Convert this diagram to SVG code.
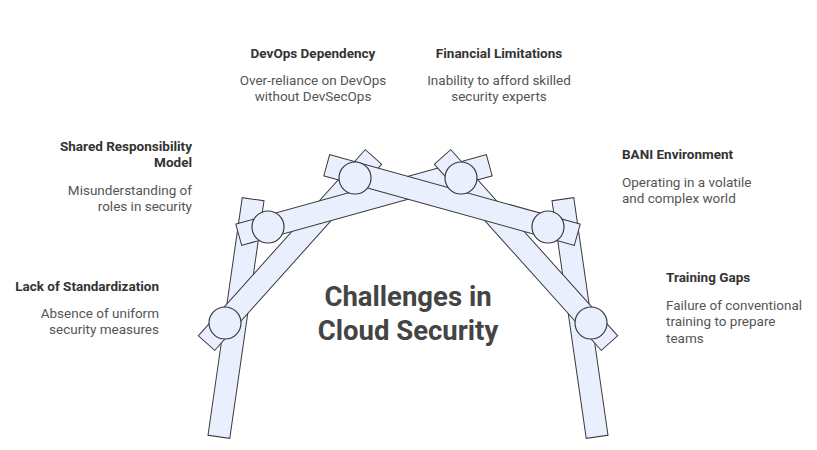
<svg xmlns="http://www.w3.org/2000/svg" width="817" height="450" viewBox="0 0 817 450">
<style>
.bar{fill:#e9effc;stroke:#3a3a3a;stroke-width:1}
.j{fill:#e9effc;stroke:#3a3a3a;stroke-width:1.2}
.t{font-family:Roboto,"Liberation Sans",sans-serif;font-size:13.5px;font-weight:bold;fill:#333}
.d{font-family:Roboto,"Liberation Sans",sans-serif;font-size:13.5px;fill:#555}
.c{font-family:Roboto,"Liberation Sans",sans-serif;font-size:27.5px;font-weight:bold;fill:#444;text-anchor:middle}
.e{text-anchor:end}.m{text-anchor:middle}
</style>
<rect width="817" height="450" fill="#fff"/>
<g id="connectors">
<g id="left-arms">
<rect class="bar" x="-120" y="-11" width="240" height="22" transform="translate(236,318) rotate(-81.8)"/>
<rect class="bar" x="-125" y="-11" width="250" height="22" transform="translate(290,250) rotate(-48.1)"/>
<rect class="bar" x="-130" y="-11" width="260" height="22" transform="translate(364,200) rotate(-15.5)"/>
</g>
<g id="right-arms" transform="translate(816,0) scale(-1,1)">
<rect class="bar" x="-120" y="-11" width="240" height="22" transform="translate(236,318) rotate(-81.8)"/>
<rect class="bar" x="-125" y="-11" width="250" height="22" transform="translate(290,250) rotate(-48.1)"/>
<rect class="bar" x="-130" y="-11" width="260" height="22" transform="translate(364,200) rotate(-15.5)"/>
</g>
</g>
<g id="lack"><circle class="j" cx="225" cy="323" r="16"/>
<text class="t e" x="159" y="291">Lack of Standardization</text>
<text class="d e" x="159" y="318">Absence of uniform</text><text class="d e" x="159" y="334">security measures</text></g>
<g id="shared"><circle class="j" cx="268" cy="227" r="16"/>
<text class="t e" x="192" y="151">Shared Responsibility</text><text class="t e" x="192" y="167">Model</text>
<text class="d e" x="192" y="195">Misunderstanding of</text><text class="d e" x="192" y="211">roles in security</text></g>
<g id="devops"><circle class="j" cx="355" cy="178" r="16"/>
<text class="t m" x="313" y="58">DevOps Dependency</text>
<text class="d m" x="313" y="85">Over-reliance on DevOps</text><text class="d m" x="313" y="101">without DevSecOps</text></g>
<g id="financial"><circle class="j" cx="461" cy="178" r="16"/>
<text class="t m" x="499" y="58">Financial Limitations</text>
<text class="d m" x="499" y="85">Inability to afford skilled</text><text class="d m" x="499" y="101">security experts</text></g>
<g id="bani"><circle class="j" cx="548" cy="227" r="16"/>
<text class="t" x="622" y="159">BANI Environment</text>
<text class="d" x="622" y="187">Operating in a volatile</text><text class="d" x="622" y="203">and complex world</text></g>
<g id="training"><circle class="j" cx="591" cy="323" r="16"/>
<text class="t" x="666" y="282">Training Gaps</text>
<text class="d" x="666" y="310">Failure of conventional</text><text class="d" x="666" y="326">training to prepare</text><text class="d" x="666" y="343">teams</text></g>
<g id="center"><text class="c" x="408" y="306">Challenges in</text><text class="c" x="408" y="340">Cloud Security</text></g>
</svg>
